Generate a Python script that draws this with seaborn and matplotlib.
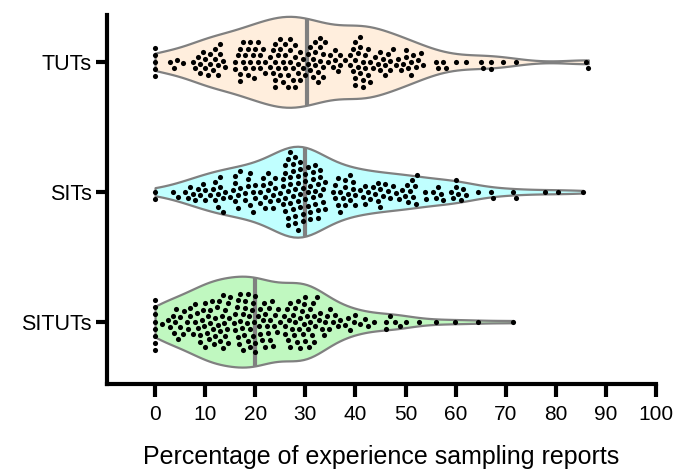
import numpy as np
import pandas as pd
import matplotlib
matplotlib.use("Agg")
import matplotlib.pyplot as plt
import seaborn as sns
from matplotlib.collections import PolyCollection

categories = ["TUTs", "SITs", "SITUTs"]

tuts = [0, 0, 0, 0, 0,
        3, 3.7, 4.3, 5.5,
        7.5, 8, 8.5, 9, 9, 9.5, 10, 10,
        10.5, 11, 11, 11.5, 12, 12, 12.5, 12.5, 13, 13, 13.5, 14,
        16, 16, 16.5, 17, 17, 17, 17.5, 17.5, 18, 18, 18.5, 18.5, 19, 19, 19.5, 19.5, 19.7,
        20, 20.5, 20.5, 21, 21, 21.5, 22, 22,
        23, 23, 23.5, 23.5, 24, 24, 24, 24, 24.5, 24.5, 25, 25, 25, 25.5, 25.5, 26, 26, 26,
        26.5, 26.5, 27, 27, 27, 27.5, 27.5, 28, 28, 28, 28.5, 28.5, 29, 29, 29.5, 29.5, 30,
        30.5, 30.5, 31, 31, 31.5, 31.5, 32, 32, 32, 32.5, 32.5, 33, 33, 33, 33.5, 33.5, 33.5, 34,
        34.5, 35, 35.5, 36, 36, 36.5, 37, 37, 38,
        39, 39, 39.5, 39.5, 40, 40, 40, 40, 40.5, 40.5, 41, 41, 41, 41.5, 41.5, 41.5, 42, 42,
        42.5, 42.5, 43, 43, 43.5,
        44, 44.5, 45, 45, 45.5, 46, 46, 46.5, 47, 47, 47.5, 48, 48.5,
        49, 49.5, 50, 50, 50.5, 51, 51, 51.5, 52, 52.5, 53, 53.5,
        56, 56.5, 57.5, 58, 60, 62, 65, 65.5, 67, 67, 69.5, 72, 86, 86.5]

sits = [0, 0, 3.5, 4.5,
        6, 6.5, 7, 7.5, 8, 8.5, 9, 9.5, 10, 10, 11, 11.5,
        12, 12, 12.5, 12.5, 13, 13, 13.5, 13.5, 14,
        15, 15.5, 16, 16, 16, 16.5, 16.5, 17, 17, 18, 18, 18.5, 18.5, 19, 19, 19.5, 19.5, 20, 20,
        21, 21, 21.5, 21.5, 22, 22, 22.5, 22.5, 23, 23, 23.5, 23.5, 24, 24, 24.5, 25,
        25.5, 25.5, 25.5, 26, 26, 26, 26, 26.5, 26.5, 26.5, 26.5, 27, 27, 27, 27,
        27.5, 27.5, 27.5, 27.5, 28, 28, 28, 28, 28.5, 28.5, 28.5, 28.5, 29, 29, 29, 29,
        29.5, 29.5, 29.5, 30, 30, 30,
        30.5, 30.5, 30.5, 31, 31, 31, 31.5, 31.5, 31.5, 32, 32, 32, 32.5, 32.5, 32.5,
        33, 33, 33, 33.5, 33.5, 34, 34,
        35.5, 36, 36, 36.5, 36.5, 37, 37, 37.5, 38, 38, 38, 38.5, 39, 39, 39.5, 39.5, 40, 40,
        41, 41.5, 42, 42, 42.5, 43, 43.5, 44, 44.5, 44.5, 45, 45, 45.5, 46, 46.5, 47, 47.5, 48,
        48.6, 49.2, 49.8, 50.2, 50.5, 50.8, 51.2, 51.5, 51.8, 52, 52.2,
        53.8, 54, 55.5, 56, 56.5, 57, 57.5,
        59, 59.5, 60, 60, 60.5, 61, 61.5, 62,
        64.4, 67, 67.5, 71.5, 72, 77.8, 80.5, 85.4]

situts = [0, 0, 0, 0, 0, 0, 0, 0,
          1.3,
          2.5, 3, 3.5, 3.8, 4, 4.2, 4.5, 5, 5, 5.5, 5.7,
          6.3, 6.5, 7, 7, 7.5, 8, 8, 8.3, 8.5, 9, 9, 9.3, 9.5, 9.8, 10, 10, 10.3,
          10.5, 10.8, 11, 11, 11.3, 11.5, 11.8, 12, 12, 12.3, 12.5, 12.8, 13, 13, 13.3, 13.5,
          13.5, 13.8, 14, 14, 14.3, 14.5, 14.5, 14.8, 15,
          15.7, 16, 16, 16.3, 16.5, 16.5, 16.8, 17, 17, 17.3, 17.5, 17.5, 17.8, 18, 18, 18.3,
          18.5, 18.5, 18.8, 19, 19, 19.3, 19.5, 19.5, 19.8, 20, 20, 20,
          20.5, 20.8, 21, 21, 21.3, 21.5, 21.8, 22, 22, 22.3, 22.5, 22.8, 23, 23, 23.3, 23.5,
          23.8, 24, 24.3, 24.5, 25,
          25.7, 26, 26, 26.3, 26.5, 26.7, 27, 27, 27.3, 27.5, 27.7, 28, 28, 28.3, 28.5, 28.7,
          29, 29, 29.3, 29.5, 29.7, 29.8, 30, 30, 30.3, 30.5, 30.7, 31, 31, 31.3, 31.5, 31.7, 31.7,
          32, 32.3, 32.7, 33, 33.3, 33.7, 34, 34.3, 34.7, 35,
          35.5, 36, 36.5, 37, 38, 38.5, 39, 39.7, 40,
          41, 42, 42.5, 43.7,
          46.2, 46.2, 47, 47.9, 48.9,
          50.1, 52.6, 56.1, 59.8, 64.4, 71.5]

fill_colors = ["#FFEEDD", "#C0FFFF", "#C0F8C0"]
xticks = list(range(0, 101, 10))
xlabel = "Percentage of experience sampling reports"

series = {"TUTs": tuts, "SITs": sits, "SITUTs": situts}
df = pd.DataFrame({
    "cat": [c for c in categories for _ in series[c]],
    "val": [v for c in categories for v in series[c]],
})

sns.set_theme(style="ticks")
plt.rcParams["font.family"] = ["Liberation Sans", "DejaVu Sans"]
plt.rcParams["text.color"] = "black"

fig = plt.figure(figsize=(6.75, 4.7), dpi=100)
ax = fig.add_axes([0.1585, 0.183, 0.8133, 0.785])

sns.violinplot(data=df, x="val", y="cat", order=categories, hue="cat",
               hue_order=categories, palette=fill_colors, orient="h",
               inner=None, cut=0, width=0.7, density_norm="width",
               bw_adjust=0.75, linewidth=1.6, linecolor="#808080",
               saturation=1, legend=False, ax=ax)

# median lines spanning the violin at the median
def extent_at(verts, xv):
    ys = []
    for (x0, y0), (x1, y1) in zip(verts[:-1], verts[1:]):
        if x0 != x1 and (x0 - xv) * (x1 - xv) <= 0:
            t = (xv - x0) / (x1 - x0)
            ys.append(y0 + t * (y1 - y0))
    return min(ys), max(ys)

polys = [c for c in ax.collections if isinstance(c, PolyCollection)]
for coll in polys:
    verts = coll.get_paths()[0].vertices
    pos = int(round(np.nanmean(verts[:, 1])))
    med = float(np.median(series[categories[pos]]))
    y0, y1 = extent_at(verts, med)
    ax.plot([med, med], [y0, y1], color="#808080", lw=3.0, zorder=2.5,
            solid_capstyle="butt")

sns.swarmplot(data=df, x="val", y="cat", order=categories, color="black",
              size=3.7, linewidth=1.2, edgecolor=(0, 0, 0, 0),
              orient="h", ax=ax, zorder=3)

ax.set_xlim(-9.6, 100)
ax.set_ylim(2.48, -0.36)
ax.set_xticks(xticks)
ax.set_xticklabels([str(t) for t in xticks])
ax.set_ylabel("")
ax.set_xlabel(xlabel, fontsize=18, labelpad=15, color="black")
for side in ["top", "right"]:
    ax.spines[side].set_visible(False)
for side in ["left", "bottom"]:
    ax.spines[side].set_linewidth(3)
    ax.spines[side].set_color("black")
ax.tick_params(axis="x", width=3, length=9, color="black",
               labelsize=15, pad=6, labelcolor="black")
ax.tick_params(axis="y", width=3, length=8, color="black",
               labelsize=15.5, pad=3, labelcolor="black")

fig.savefig("out.png", dpi=100)
